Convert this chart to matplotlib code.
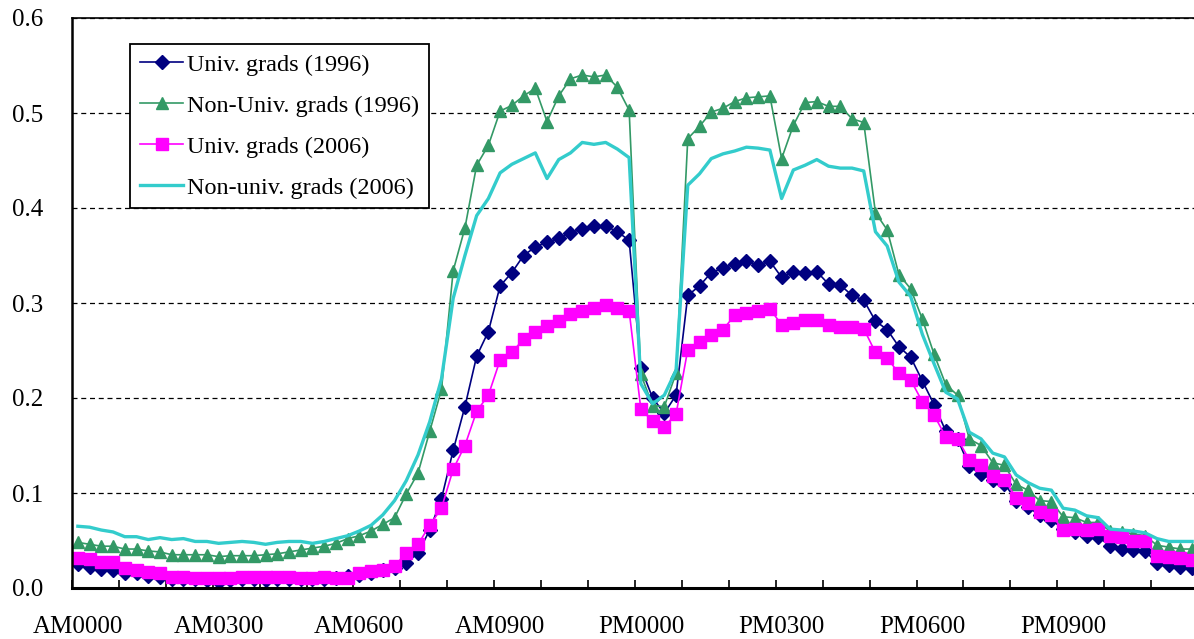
import numpy as np
import matplotlib.pyplot as plt
from matplotlib.ticker import FixedLocator, NullFormatter

plt.rcParams['font.family'] = ['Liberation Serif', 'DejaVu Serif']

# 15-minute slots over one day
slots = np.arange(96)
hour_labels = ["AM0000", "AM0300", "AM0600", "AM0900",
               "PM0000", "PM0300", "PM0600", "PM0900"]

univ_1996 = [0.025, 0.022, 0.020, 0.019, 0.016, 0.016, 0.013, 0.012, 0.010, 0.009,
             0.009, 0.008, 0.006, 0.008, 0.009, 0.009, 0.008, 0.009, 0.009, 0.009,
             0.009, 0.010, 0.011, 0.013, 0.014, 0.016, 0.019, 0.021, 0.026, 0.037,
             0.061, 0.094, 0.145, 0.191, 0.244, 0.270, 0.318, 0.332, 0.350, 0.359,
             0.364, 0.368, 0.374, 0.378, 0.381, 0.381, 0.375, 0.366, 0.232, 0.200,
             0.184, 0.203, 0.308, 0.318, 0.332, 0.337, 0.341, 0.344, 0.340, 0.344,
             0.327, 0.333, 0.332, 0.333, 0.320, 0.319, 0.308, 0.303, 0.281, 0.272,
             0.254, 0.243, 0.218, 0.193, 0.165, 0.157, 0.128, 0.120, 0.114, 0.110,
             0.092, 0.085, 0.077, 0.072, 0.062, 0.059, 0.055, 0.054, 0.044, 0.041,
             0.040, 0.039, 0.026, 0.024, 0.022, 0.021]

nonuniv_1996 = [0.048, 0.046, 0.044, 0.044, 0.041, 0.041, 0.039, 0.038, 0.035, 0.035,
                0.035, 0.035, 0.033, 0.034, 0.034, 0.034, 0.035, 0.036, 0.038, 0.040,
                0.042, 0.044, 0.047, 0.052, 0.055, 0.060, 0.067, 0.074, 0.099, 0.121,
                0.165, 0.209, 0.334, 0.379, 0.445, 0.466, 0.502, 0.508, 0.518, 0.526,
                0.491, 0.518, 0.536, 0.540, 0.538, 0.540, 0.527, 0.503, 0.225, 0.192,
                0.191, 0.226, 0.473, 0.486, 0.501, 0.505, 0.512, 0.516, 0.517, 0.518,
                0.452, 0.487, 0.511, 0.512, 0.507, 0.507, 0.494, 0.490, 0.395, 0.377,
                0.330, 0.315, 0.283, 0.246, 0.214, 0.203, 0.157, 0.150, 0.132, 0.129,
                0.109, 0.103, 0.092, 0.091, 0.075, 0.074, 0.069, 0.069, 0.060, 0.059,
                0.057, 0.055, 0.045, 0.043, 0.041, 0.041]

univ_2006 = [0.032, 0.031, 0.027, 0.027, 0.021, 0.019, 0.017, 0.016, 0.012, 0.012,
             0.011, 0.011, 0.011, 0.011, 0.012, 0.012, 0.012, 0.012, 0.012, 0.011,
             0.011, 0.012, 0.011, 0.011, 0.016, 0.018, 0.019, 0.023, 0.037, 0.046,
             0.066, 0.084, 0.125, 0.150, 0.186, 0.203, 0.240, 0.248, 0.262, 0.270,
             0.276, 0.281, 0.288, 0.292, 0.295, 0.298, 0.295, 0.292, 0.188, 0.176,
             0.170, 0.183, 0.251, 0.259, 0.266, 0.272, 0.287, 0.290, 0.292, 0.294,
             0.277, 0.279, 0.282, 0.282, 0.277, 0.275, 0.275, 0.273, 0.248, 0.242,
             0.226, 0.219, 0.196, 0.182, 0.159, 0.157, 0.135, 0.130, 0.118, 0.114,
             0.095, 0.089, 0.080, 0.077, 0.061, 0.062, 0.061, 0.062, 0.055, 0.054,
             0.050, 0.050, 0.034, 0.033, 0.032, 0.030]

nonuniv_2006 = [0.065, 0.064, 0.061, 0.059, 0.054, 0.054, 0.051, 0.053, 0.051, 0.052,
                0.049, 0.049, 0.047, 0.048, 0.049, 0.048, 0.046, 0.048, 0.049, 0.049,
                0.047, 0.049, 0.052, 0.055, 0.060, 0.066, 0.077, 0.092, 0.113, 0.140,
                0.175, 0.220, 0.305, 0.350, 0.392, 0.410, 0.437, 0.446, 0.452, 0.458,
                0.431, 0.451, 0.458, 0.469, 0.467, 0.469, 0.462, 0.453, 0.215, 0.194,
                0.203, 0.229, 0.424, 0.436, 0.452, 0.457, 0.460, 0.464, 0.463, 0.461,
                0.410, 0.440, 0.445, 0.451, 0.444, 0.442, 0.442, 0.439, 0.375, 0.360,
                0.322, 0.307, 0.267, 0.236, 0.206, 0.199, 0.164, 0.157, 0.142, 0.138,
                0.119, 0.111, 0.105, 0.103, 0.084, 0.082, 0.076, 0.074, 0.062, 0.061,
                0.060, 0.058, 0.052, 0.049, 0.049, 0.049]

fig = plt.figure(figsize=(11.94, 6.39), dpi=100)
ax = fig.add_axes([72 / 1194, 51 / 639, 1126 / 1194, 570 / 639])

ax.plot(slots, univ_1996, color='#000080', lw=1.2, marker='D', ms=7,
        label='Univ. grads (1996)')
ax.plot(slots, nonuniv_1996, color='#339966', lw=1.2, marker='^', ms=9,
        label='Non-Univ. grads (1996)')
ax.plot(slots, univ_2006, color='#FF00FF', lw=1.2, marker='s', ms=8.5,
        label='Univ. grads (2006)')
ax.plot(slots, nonuniv_2006, color='#33CCCC', lw=2.4,
        label='Non-univ. grads (2006)')

ax.set_xlim(-0.5, 95.5)
ax.set_ylim(0, 0.6)

# hour ticks at category boundaries, labels every 3 hours
ax.xaxis.set_major_locator(FixedLocator(np.arange(-0.5, 96, 4)))
ax.xaxis.set_major_formatter(NullFormatter())
ax.xaxis.set_minor_locator(FixedLocator(slots[::12]))
ax.set_xticklabels(hour_labels, minor=True)
ax.tick_params(axis='x', which='major', direction='in', length=6, width=1.2)
ax.tick_params(axis='x', which='minor', length=0, pad=20, labelsize=18)

ax.set_yticks(np.arange(0, 0.61, 0.1))
ax.set_yticklabels(['%.1f' % v for v in np.arange(0, 0.61, 0.1)])
ax.tick_params(axis='y', length=0, pad=21, labelsize=18)

ax.grid(axis='y', color='black', linestyle=(0, (4, 3)), linewidth=0.9)
ax.set_axisbelow(True)

ax.spines['left'].set_linewidth(1.8)
ax.spines['bottom'].set_linewidth(2.2)
ax.spines['top'].set_linewidth(1.2)
ax.spines['right'].set_visible(False)

leg = ax.legend(loc='upper left', bbox_to_anchor=(130 / 1194, 1 - 44 / 639),
                bbox_transform=fig.transFigure, fontsize=17.5, frameon=True,
                fancybox=False, edgecolor='black', framealpha=1,
                borderpad=0.4, handletextpad=0.15, handlelength=1.8,
                labelspacing=0.78, borderaxespad=0)
leg.get_frame().set_linewidth(1.3)

fig.savefig('out.png', dpi=100)
